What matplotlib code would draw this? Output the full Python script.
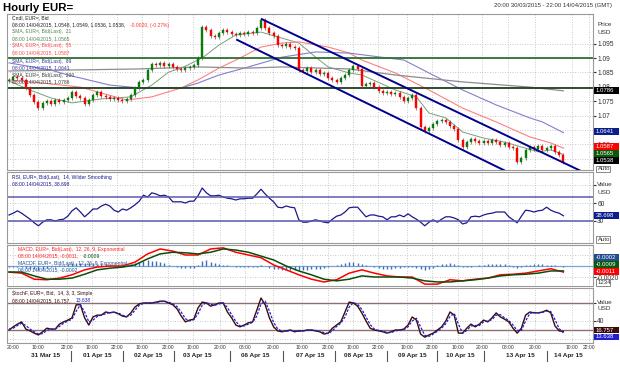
import numpy as np
from matplotlib import pyplot as plt
from matplotlib.patches import Rectangle
from matplotlib.transforms import blended_transform_factory as blend

plt.rcParams['font.family'] = ['Liberation Sans', 'DejaVu Sans']

# ---------------------------------------------------------------- data
# 2-hour bars, 30/03 20:00 -> 14/04 08:00 (weekend removed)
close = [1.0824, 1.0834, 1.0831, 1.0824, 1.0796, 1.0772, 1.0747, 1.0726, 1.0744, 1.0751,
         1.0740, 1.0754, 1.0747, 1.0754, 1.0761, 1.0782, 1.0768, 1.0761, 1.0740, 1.0754,
         1.0772, 1.0782, 1.0768, 1.0765, 1.0758, 1.0761, 1.0754, 1.0751, 1.0758, 1.0772,
         1.0796, 1.0817, 1.0824, 1.0858, 1.0879, 1.0876, 1.0883, 1.0872, 1.0879, 1.0869,
         1.0862, 1.0858, 1.0865, 1.0869, 1.0876, 1.0900, 1.1008, 1.0997, 1.0976, 1.0973,
         1.0987, 1.0997, 1.0990, 1.0983, 1.0980, 1.0987, 1.0983, 1.0990, 1.0987, 1.1004,
         1.1032, 1.1004, 1.0987, 1.0976, 1.0945, 1.0942, 1.0949, 1.0938, 1.0935, 1.0858,
         1.0855, 1.0865, 1.0851, 1.0858, 1.0844, 1.0848, 1.0831, 1.0824, 1.0817, 1.0831,
         1.0841, 1.0858, 1.0872, 1.0862, 1.0803, 1.0810, 1.0813, 1.0799, 1.0785, 1.0778,
         1.0782, 1.0775, 1.0778, 1.0765, 1.0751, 1.0761, 1.0772, 1.0726, 1.0660, 1.0647,
         1.0657, 1.0671, 1.0681, 1.0685, 1.0678, 1.0664, 1.0653, 1.0615, 1.0591, 1.0608,
         1.0619, 1.0612, 1.0605, 1.0612, 1.0605, 1.0615, 1.0608, 1.0598, 1.0605, 1.0591,
         1.0588, 1.0539, 1.0553, 1.0581, 1.0591, 1.0584, 1.0594, 1.0581, 1.0588, 1.0594,
         1.0574, 1.0563, 1.0538]
first_open = 1.0820

sma21_x = [0, 5, 10, 15, 22, 29, 34, 38, 41, 46, 50, 54, 60, 65, 69, 73, 76, 81, 84, 92,
           97, 100, 104, 108, 113, 118, 122, 126, 129, 132]
sma21 = [1.0820, 1.0789, 1.0761, 1.0744, 1.0758, 1.0765, 1.0806, 1.0851, 1.0865, 1.0900,
         1.0945, 1.0980, 1.0990, 1.0969, 1.0952, 1.0903, 1.0869, 1.0848, 1.0841, 1.0789,
         1.0765, 1.0709, 1.0692, 1.0643, 1.0622, 1.0608, 1.0591, 1.0574, 1.0581, 1.0565]
sma55_x = [0, 8, 17, 28, 34, 41, 45, 50, 55, 60, 65, 69, 76, 81, 84, 92, 100, 108, 116,
           124, 129, 132]
sma55 = [1.0824, 1.0813, 1.0799, 1.0754, 1.0765, 1.0796, 1.0824, 1.0865, 1.0900, 1.0938,
         1.0952, 1.0956, 1.0938, 1.0917, 1.0893, 1.0848, 1.0789, 1.0726, 1.0678, 1.0626,
         1.0605, 1.0587]
sma89_x = [0, 10, 14, 24, 31, 41, 45, 50, 57, 65, 73, 81, 94, 100, 108, 116, 124, 127, 132]
sma89 = [1.0883, 1.0858, 1.0841, 1.0806, 1.0796, 1.0796, 1.0813, 1.0841, 1.0869, 1.0903,
         1.0921, 1.0917, 1.0893, 1.0848, 1.0789, 1.0737, 1.0692, 1.0678, 1.0641]
sma200_x = [0, 31, 45, 57, 65, 81, 92, 108, 124, 132]
sma200 = [1.0855, 1.0862, 1.0869, 1.0865, 1.0869, 1.0862, 1.0841, 1.0817, 1.0799, 1.0786]

levels = [1.0900, 1.0796]
chan_upper = ([60.2, 136.7], [1.1035, 1.0504])
chan_lower = ([54.3, 121.7], [1.0963, 1.0483])

rsi = [40, 43, 47, 43, 38, 33, 27, 22, 28, 32, 32, 30, 32, 33, 38, 47, 52, 45, 37, 43,
       50, 50, 55, 58, 55, 48, 45, 50, 48, 52, 57, 63, 73, 70, 77, 75, 72, 73, 70, 62,
       62, 62, 60, 63, 63, 72, 85, 77, 72, 72, 73, 70, 68, 67, 65, 67, 67, 68, 68, 75,
       83, 75, 68, 62, 53, 52, 55, 53, 52, 32, 28, 28, 30, 32, 30, 28, 27, 33, 38, 40,
       45, 52, 53, 53, 45, 37, 40, 40, 38, 37, 32, 37, 37, 40, 37, 42, 37, 33, 28, 22,
       28, 32, 28, 33, 37, 37, 35, 32, 25, 27, 37, 38, 37, 40, 42, 43, 45, 45, 45, 37,
       32, 27, 38, 48, 47, 45, 47, 48, 53, 48, 45, 43, 38.7]

macd_x = list(range(0, 133, 3))
macd = [-0.0011, -0.0013, -0.0024, -0.0025, -0.0022, -0.0016, -0.0007, -0.0002, 0.0000, 0.0000,
        0.0007, 0.0022, 0.0031, 0.0027, 0.0020, 0.0020, 0.0031, 0.0033, 0.0025, 0.0020,
        0.0015, 0.0002, -0.0007, -0.0016, -0.0024, -0.0029, -0.0025, -0.0013, -0.0007, -0.0013,
        -0.0018, -0.0020, -0.0020, -0.0033, -0.0033, -0.0025, -0.0027, -0.0024, -0.0022, -0.0016,
        -0.0015, -0.0013, -0.0009, -0.0005, -0.0011]
signal = [-0.0011, -0.0011, -0.0018, -0.0024, -0.0024, -0.0022, -0.0015, -0.0007, -0.0004, -0.0002,
          0.0002, 0.0013, 0.0022, 0.0025, 0.0024, 0.0022, 0.0025, 0.0031, 0.0029, 0.0025,
          0.0018, 0.0011, 0.0000, -0.0009, -0.0016, -0.0024, -0.0027, -0.0024, -0.0018, -0.0020,
          -0.0020, -0.0020, -0.0022, -0.0027, -0.0029, -0.0029, -0.0027, -0.0025, -0.0022, -0.0018,
          -0.0016, -0.0015, -0.0013, -0.0009, -0.0009]
macdf = [-0.0001, -0.0001, -0.0002, -0.0002, -0.0003, -0.0005, -0.0006, -0.0007, -0.0006, -0.0004,
         -0.0002, -0.0001, 0.0001, 0.0002, 0.0004, 0.0005, 0.0006, 0.0005, 0.0006, 0.0005,
         0.0005, 0.0004, 0.0004, 0.0003, 0.0002, 0.0002, 0.0001, 0.0001, 0.0002, 0.0004,
         0.0006, 0.0008, 0.0010, 0.0011, 0.0010, 0.0009, 0.0008, 0.0005, 0.0002, 0.0000,
         -0.0002, -0.0003, -0.0004, -0.0004, -0.0003, 0.0001, 0.0009, 0.0011, 0.0008, 0.0005,
         0.0003, 0.0002, 0.0001, 0.0000, -0.0001, -0.0002, -0.0002, -0.0002, -0.0002, -0.0001,
         0.0001, 0.0000, -0.0003, -0.0005, -0.0006, -0.0007, -0.0007, -0.0007, -0.0007, -0.0008,
         -0.0008, -0.0007, -0.0006, -0.0006, -0.0005, -0.0004, -0.0002, 0.0000, 0.0002, 0.0004,
         0.0006, 0.0007, 0.0007, 0.0006, 0.0003, 0.0001, 0.0000, -0.0002, -0.0004, -0.0005,
         -0.0006, -0.0005, -0.0004, -0.0003, -0.0002, -0.0001, -0.0001, -0.0003, -0.0006, -0.0007,
         -0.0005, -0.0003, 0.0001, 0.0003, 0.0004, 0.0005, 0.0004, 0.0002, -0.0001, -0.0002,
         -0.0001, 0.0000, 0.0001, 0.0002, 0.0003, 0.0004, 0.0004, 0.0003, 0.0003, 0.0001,
         -0.0002, -0.0003, -0.0002, 0.0001, 0.0002, 0.0003, 0.0003, 0.0003, 0.0002, 0.0002,
         0.0001, 0.0000, -0.0002]

stoch_k = [20, 27, 33, 38, 22, 18, 13, 9, 16, 24, 22, 22, 33, 38, 42, 47, 76, 76, 47, 31,
           49, 53, 53, 60, 58, 60, 56, 51, 49, 58, 71, 78, 80, 80, 80, 82, 84, 84, 80, 76,
           67, 51, 38, 42, 44, 69, 82, 80, 73, 76, 80, 80, 60, 47, 31, 27, 31, 36, 38, 64,
           91, 76, 47, 27, 18, 16, 18, 20, 16, 18, 18, 20, 20, 18, 16, 11, 13, 24, 31, 38,
           60, 82, 80, 73, 58, 40, 24, 20, 18, 16, 13, 16, 20, 20, 22, 31, 49, 42, 11, 4,
           9, 13, 20, 27, 40, 60, 53, 13, 13, 24, 33, 27, 33, 42, 38, 47, 58, 49, 44, 38,
           24, 13, 24, 53, 60, 58, 58, 60, 64, 58, 29, 18, 16.8]
stoch_d = [22, 24, 30, 35, 30, 22, 16, 11, 12, 19, 22, 22, 28, 35, 40, 44, 62, 76, 60, 38,
           42, 50, 53, 56, 59, 59, 58, 53, 50, 53, 64, 75, 79, 80, 80, 81, 83, 84, 82, 78,
           72, 60, 45, 40, 43, 56, 75, 81, 77, 75, 78, 80, 70, 54, 39, 29, 29, 33, 37, 51,
           78, 84, 62, 37, 22, 17, 17, 19, 18, 17, 18, 19, 20, 19, 17, 14, 12, 18, 28, 35,
           49, 71, 81, 77, 66, 49, 32, 22, 19, 17, 15, 14, 18, 20, 21, 27, 40, 46, 27, 8,
           6, 11, 17, 24, 34, 50, 57, 33, 13, 19, 29, 30, 30, 38, 40, 43, 53, 54, 47, 41,
           31, 19, 19, 40, 57, 59, 58, 59, 62, 61, 43, 23, 13.6]

time_pos = [1.0, 6.9, 13.8, 19.8, 25.7, 31.7, 37.9, 43.8, 50.2, 56.2, 62.9, 69.8, 76.0,
            81.9, 87.9, 94.8, 100.7, 106.9, 112.6, 118.8, 125.2, 134.0, 138.0]
time_lab = ['20:00', '10:00', '22:00', '10:00', '22:00', '10:00', '22:00', '10:00', '20:00',
            '08:00', '20:00', '10:00', '22:00', '10:00', '22:00', '10:00', '22:00', '10:00',
            '20:00', '08:00', '20:00', '10:00', '22:00']
day_pos = [8.6, 21.0, 33.1, 44.8, 58.6, 71.7, 83.1, 96.0, 107.4, 121.7, 133.1]
day_lab = ['31 Mar 15', '01 Apr 15', '02 Apr 15', '03 Apr 15', '06 Apr 15', '07 Apr 15',
           '08 Apr 15', '09 Apr 15', '10 Apr 15', '13 Apr 15', '14 Apr 15']
day_sep = [14.8, 27.1, 39.3, 52.6, 65.2, 77.6, 90.0, 101.9, 113.1, 128.1]

# ---------------------------------------------------------------- layout
W, H = 620, 369
fig = plt.figure(figsize=(6.2, 3.69), dpi=100)


def rect(top, bottom, left=7, right=593):
    return [left / W, 1 - bottom / H, (right - left) / W, (bottom - top) / H]


def ftext(x, y, s, **kw):
    kw.setdefault('fontsize', 3.6)
    kw.setdefault('va', 'center')
    fig.text(x / W, 1 - y / H, s, **kw)


def pbox(y, s, fc, tc='white', ec='none', x0=594, w=25):
    # value flag in the right margin, y = centre in pixels from top
    fig.patches.append(Rectangle((x0 / W, 1 - (y + 3.4) / H), w / W, 6.8 / H,
                                 transform=fig.transFigure, fc=fc, ec=ec, lw=0.6,
                                 zorder=5))
    fig.text((x0 + 1.5) / W, 1 - y / H, s, fontsize=4.3, color=tc, va='center',
             ha='left', zorder=6)


axp = fig.add_axes(rect(14, 170))
axr = fig.add_axes(rect(172, 243), sharex=axp)
axm = fig.add_axes(rect(245, 286), sharex=axp)
axs = fig.add_axes(rect(288, 343), sharex=axp)

for ax in (axp, axr, axm, axs):
    for sp in ax.spines.values():
        sp.set_color('#9a9a9a')
        sp.set_linewidth(0.8)
    ax.yaxis.tick_right()
    ax.tick_params(axis='y', length=2, pad=1, labelsize=4.8, colors='#333333')
    ax.tick_params(axis='x', length=0)
    ax.grid(True, ls=(0, (1, 2)), color='#b8b8b8', lw=0.6)
    ax.set_axisbelow(True)
    ax.set_xticks(time_pos)
for ax in (axp, axr, axm):
    ax.tick_params(axis='x', labelbottom=False)

axp.set_xlim(-0.48, 139.05)

# ---------------------------------------------------------------- price
x = np.arange(len(close))
c = np.array(close)
o = np.r_[first_open, c[:-1]]
up = c >= o
lo = np.minimum(o, c)
hi = np.maximum(o, c)
cols = np.where(up, '#0a7a0a', '#ff0000')
axp.vlines(x, lo - 0.0006, hi + 0.0006, colors='#505050', lw=0.45, zorder=3)
axp.bar(x, np.maximum(hi - lo, 0.00012), bottom=lo, width=0.5, color=cols,
        edgecolor=cols, lw=0.3, zorder=4)

axp.plot(sma21_x, sma21, color='#7a9e7a', lw=0.7, zorder=2)
axp.plot(sma55_x, sma55, color='#ff8080', lw=0.8, zorder=2)
axp.plot(sma89_x, sma89, color='#8080d0', lw=0.8, zorder=2)
axp.plot(sma200_x, sma200, color='#8c8c8c', lw=0.9, zorder=2)
axp.axhline(levels[0], color='#2f6f2f', lw=1.3, zorder=2)
axp.axhline(levels[1], color='#1f3f1f', lw=1.3, zorder=2)
axp.plot(*chan_upper, color='#00008c', lw=1.4, zorder=5)
axp.plot(*chan_lower, color='#00008c', lw=1.4, zorder=5)
axp.set_ylim(1.05111, 1.10528)
pt = [1.055, 1.06, 1.065, 1.07, 1.075, 1.08, 1.085, 1.09, 1.095]
axp.set_yticks(pt)
# 1.055 and 1.065 sit under the value flags
axp.set_yticklabels(['' if v in (1.055, 1.065) else f'{v:.3f}'.rstrip('0') for v in pt])

# ---------------------------------------------------------------- RSI
axr.plot(x, rsi, color='#1a1a8c', lw=0.9)
axr.axhline(70, color='#5a5ab0', lw=1.1)
axr.axhline(30, color='#5a5ab0', lw=1.1)
axr.set_ylim(-6.7, 111.7)
axr.set_yticks([30, 60, 90])
axr.set_yticklabels(['30', '60', ''])

# ---------------------------------------------------------------- MACD
axm.axhline(0, color='#7aa6d6', lw=0.9)
axm.vlines(x, 0, macdf, colors='#3f70b0', lw=1.0)
axm.plot(macd_x, macd, color='#ff0000', lw=1.1)
axm.plot(macd_x, signal, color='#0b4d0b', lw=1.1)
axm.set_ylim(-0.003636, 0.003818)
axm.set_yticks([-0.002, 0.002])
axm.set_yticklabels(['-0.0020', ''])

# ---------------------------------------------------------------- Stoch
axs.axhline(80, color='#8c7070', lw=1.0)
axs.axhline(20, color='#8c7070', lw=1.0)
axs.plot(x, stoch_k, color='#3a0c0c', lw=1.0)
axs.plot(x, stoch_d, color='#1f1fd0', lw=0.9, ls=(0, (2, 1.2)))
axs.set_ylim(-8.9, 113.3)
axs.set_yticks([0, 40, 80])
axs.set_yticklabels(['', '40', ''])
axs.set_xticklabels(time_lab, fontsize=3.6, color='#333333')
axs.tick_params(axis='x', pad=1.5)
tr = blend(axs.transData, axs.transAxes)
for p, lab in zip(day_pos, day_lab):
    axs.text(p, -0.235, lab, transform=tr, fontsize=4.6, fontweight='bold',
             ha='center', va='center', color='#222222')
for p in day_sep:
    axs.plot([p, p], [-0.14, -0.33], transform=tr, color='#555555', lw=0.8, clip_on=False)

# ---------------------------------------------------------------- value flags
pbox(90.5, '1.0786', '#000000')
pbox(131.5, '1.0641', '#0b1f8c')
pbox(146.5, '1.0587', '#ff0000')
pbox(153.5, '1.0565', '#0a5a0a')
pbox(160.5, '1.0538', '#000000')
pbox(169.0, 'Auto', 'white', tc='#333333', ec='#777777', x0=596, w=14)
pbox(215.5, '38.698', '#0b1f8c')
pbox(239.5, 'Auto', 'white', tc='#333333', ec='#777777', x0=596, w=14)
pbox(257.5, '-0.0002', '#1f4f8f')
pbox(264.5, '-0.0009', '#0a5a0a')
pbox(271.5, '-0.0011', '#ff0000')
pbox(282.5, '1234', 'white', tc='#333333', ec='#777777', x0=596, w=14)
pbox(330.0, '16.757', '#3a0c0c')
pbox(337.0, '13.638', '#1f1fd0')

# ---------------------------------------------------------------- texts
ftext(3, 8, 'Hourly EUR=', fontsize=8.2, fontweight='bold')
ftext(612, 6, '20:00 30/03/2015 - 22:00 14/04/2015 (GMT)', ha='right', color='#333333',
      fontsize=4.3)
for y, s in ((25, 'Price'), (33, 'USD'), (185, 'Value'), (193, 'USD'),
             (302, 'Value'), (309, 'USD')):
    ftext(597, y, s, color='#333333', fontsize=4.6)

ftext(12, 18, 'Cndl, EUR=, Bid', color='#222222')
ftext(12, 25, '08:00 14/04/2015, 1.0548, 1.0549, 1.0536, 1.0538,', color='#222222')
ftext(130, 25, '-0.0020, (-0.27%)', color='#ff3030')
ftext(12, 32, 'SMA, EUR=, Bid(Last),  21', color='#4f8a4f')
ftext(12, 39, '08:00 14/04/2015, 1.0565', color='#4f8a4f')
ftext(12, 46, 'SMA, EUR=, Bid(Last),  55', color='#ff4a4a')
ftext(12, 53, '08:00 14/04/2015, 1.0587', color='#ff4a4a')
ftext(12, 61, 'SMA, EUR=, Bid(Last),  89', color='#3a3aa8')
ftext(12, 68, '08:00 14/04/2015, 1.0641', color='#3a3aa8')
ftext(12, 75, 'SMA, EUR=, Bid(Last),  200', color='#3c3c3c')
ftext(12, 82, '08:00 14/04/2015, 1.0786', color='#3c3c3c')

ftext(12, 177, 'RSI, EUR=, Bid(Last),  14, Wilder Smoothing', color='#1a1a8c')
ftext(12, 184, '08:00 14/04/2015, 38.698', color='#1a1a8c')

ftext(18, 249, 'MACD, EUR=, Bid(Last),  12, 26, 9, Exponential', color='#ff2020')
ftext(18, 256, '08:00 14/04/2015, -0.0011,', color='#ff2020')
ftext(83, 256, '-0.0009', color='#0b4d0b')
ftext(18, 263, 'MACDF, EUR=, Bid(Last),  12, 26, 9, Exponential', color='#1f4f8f')
ftext(18, 270, '08:00 14/04/2015, -0.0002', color='#1f4f8f')

ftext(12, 294, 'StochF, EUR=, Bid,  14, 3, 3, Simple', color='#3a0c0c')
ftext(12, 301, '08:00 14/04/2015, 16.757,', color='#3a0c0c')
ftext(76, 301, '13.638', color='#1f1fd0')

fig.savefig('out.png', dpi=100, facecolor='white')
